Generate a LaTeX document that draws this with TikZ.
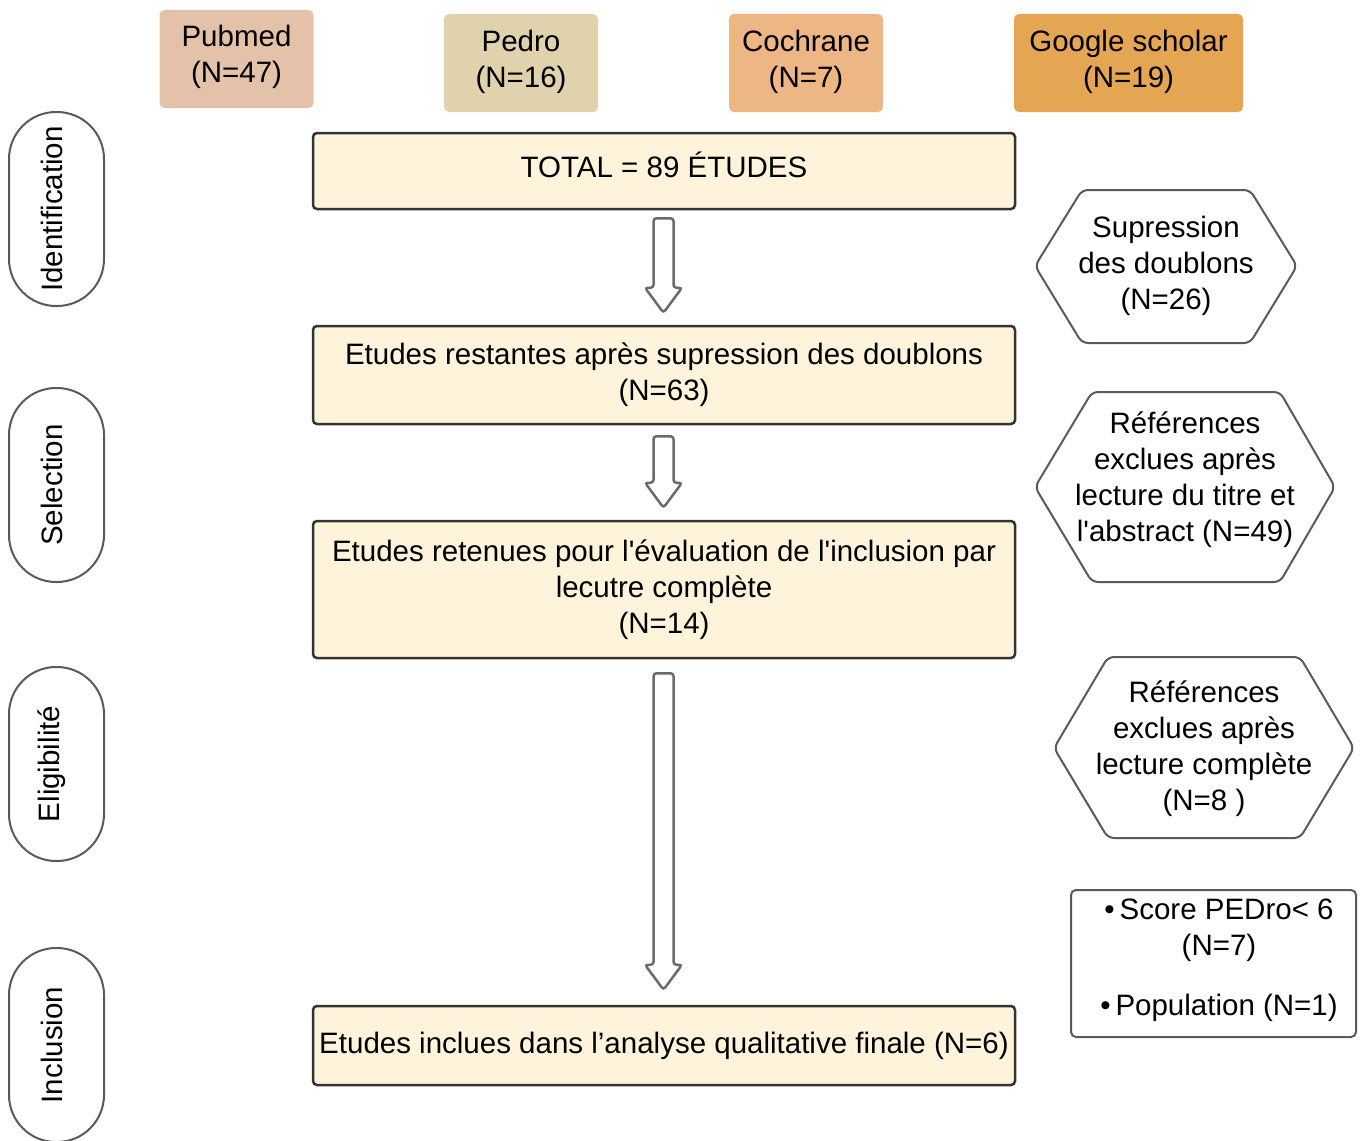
\documentclass[tikz,border=0pt]{standalone}
\usepackage{fontspec}
\setmainfont{Liberation Sans}
\usetikzlibrary{calc}
\definecolor{cPub}{HTML}{E4C1A9}
\definecolor{cPed}{HTML}{DFD2AC}
\definecolor{cCoc}{HTML}{EDB685}
\definecolor{cGoo}{HTML}{E5A654}
\definecolor{cBox}{HTML}{FFF4DB}
\definecolor{cLine}{HTML}{333333}
\definecolor{cGray}{HTML}{5A5A5A}
\newcommand\blockarr[2]{%
  \draw[barrow] ($(#1)+(-10,0)$) -- ($(#1)+(10,0)$) -- ($(#2)+(10,-25)$) -- ($(#2)+(18.5,-25)$) -- (#2)
     -- ($(#2)+(-18.5,-25)$) -- ($(#2)+(-10,-25)$) -- cycle;}
\newcommand\bul{\textbullet\,}
\begin{document}
\begin{tikzpicture}[x=1pt,y=-1pt,
  every node/.style={font=\fontsize{29.5}{36}\selectfont, align=center, inner sep=0pt},
  src/.style={rounded corners=5pt, minimum width=154pt, minimum height=98pt},
  mainbox/.style={draw=cLine, line width=2.5pt, fill=cBox, rounded corners=4pt, minimum width=702pt},
  phase/.style={draw=cGray, line width=2pt, rounded corners=47pt, minimum width=95pt, minimum height=194pt},
  hexline/.style={draw=cGray, line width=2pt, rounded corners=6pt},
  exclbox/.style={draw=cGray, line width=2pt, rounded corners=5pt, minimum width=285pt, minimum height=147pt},
  barrow/.style={draw=cGray!90, line width=2.5pt, rounded corners=3pt, fill=white},
]
\useasboundingbox (0,0) rectangle (1364,1140);

% sources
\node[src, fill=cPub] (pub) at (236.5,59) {};
\node (pubt) at (236.5,57) {Pubmed\\(N=47)};
\node[src, fill=cPed] (ped) at (521,63) {};
\node (pedt) at (521,61.5) {Pedro\\(N=16)};
\node[src, fill=cCoc] (coc) at (806,63) {};
\node (coct) at (806,61.5) {Cochrane\\(N=7)};
\node[src, fill=cGoo, minimum width=229pt] (goo) at (1128.5,63) {};
\node (goot) at (1128.5,61.5) {Google scholar\\(N=19)};

% main boxes
\node[mainbox, minimum height=76pt] (b1) at (664,171) {};
\node (b1t) at (664,165) {TOTAL = 89 ÉTUDES};
\node[mainbox, minimum height=98pt] (b2) at (664,375) {Etudes restantes après supression des doublons\\(N=63)};
\node[mainbox, minimum height=137pt] (b3) at (664,589.5) {Etudes retenues pour l\textquotesingle évaluation de l\textquotesingle inclusion par\\lecutre complète\\(N=14)};
\node[mainbox, minimum height=79pt] (b4) at (664,1045.5) {Etudes inclues dans l’analyse qualitative finale (N=6)};

% block arrows
\coordinate (a1s) at ($(b1.south)+(-0.5,8)$);
\coordinate (a1e) at ($(b2.north)+(-0.5,-12)$);
\coordinate (a2s) at ($(b2.south)+(-0.5,11)$);
\coordinate (a2e) at ($(b3.north)+(-0.5,-12)$);
\coordinate (a3s) at ($(b3.south)+(-0.5,14)$);
\coordinate (a3e) at ($(b4.north)+(-0.5,-15)$);
\blockarr{a1s}{a1e}
\blockarr{a2s}{a2e}
\blockarr{a3s}{a3e}

% phases
\node[phase] (p1) at (56.5,209) {};
\node[rotate=90] (p1t) at (51.5,209) {Identification};
\node[phase] (p2) at (56.5,485) {};
\node[rotate=90] (p2t) at (51.5,485) {Selection};
\node[phase] (p3) at (56.5,764) {};
\node[rotate=90] (p3t) at (51.5,764) {Eligibilité};
\node[phase] (p4) at (56.5,1045) {};
\node[rotate=90] (p4t) at (51.5,1045) {Inclusion};

% hexagons
\draw[hexline] (1035,266) -- (1082,190) -- (1250,190) -- (1297,266) -- (1250,343) -- (1082,343) -- cycle;
\node (h1) at (1166,266) {Supression\\des doublons\\(N=26)};
\draw[hexline] (1035,487) -- (1092,392) -- (1280,392) -- (1335,487) -- (1280,582) -- (1092,582) -- cycle;
\node (h2) at (1185,480) {Références\\exclues après\\lecture du titre et\\l\textquotesingle abstract (N=49)};
\draw[hexline] (1054,748) -- (1108,657) -- (1300,657) -- (1354,748) -- (1300,838) -- (1108,838) -- cycle;
\node (h3) at (1204,749) {Références\\exclues après\\lecture complète\\(N=8 )};

% exclusion detail box
\node[exclbox] (ex) at (1213.5,963.5) {};
\node (ext) at (1219,960) {\bul Score PEDro< 6\\(N=7)\\[24pt]\bul Population (N=1)};
\end{tikzpicture}
\end{document}
